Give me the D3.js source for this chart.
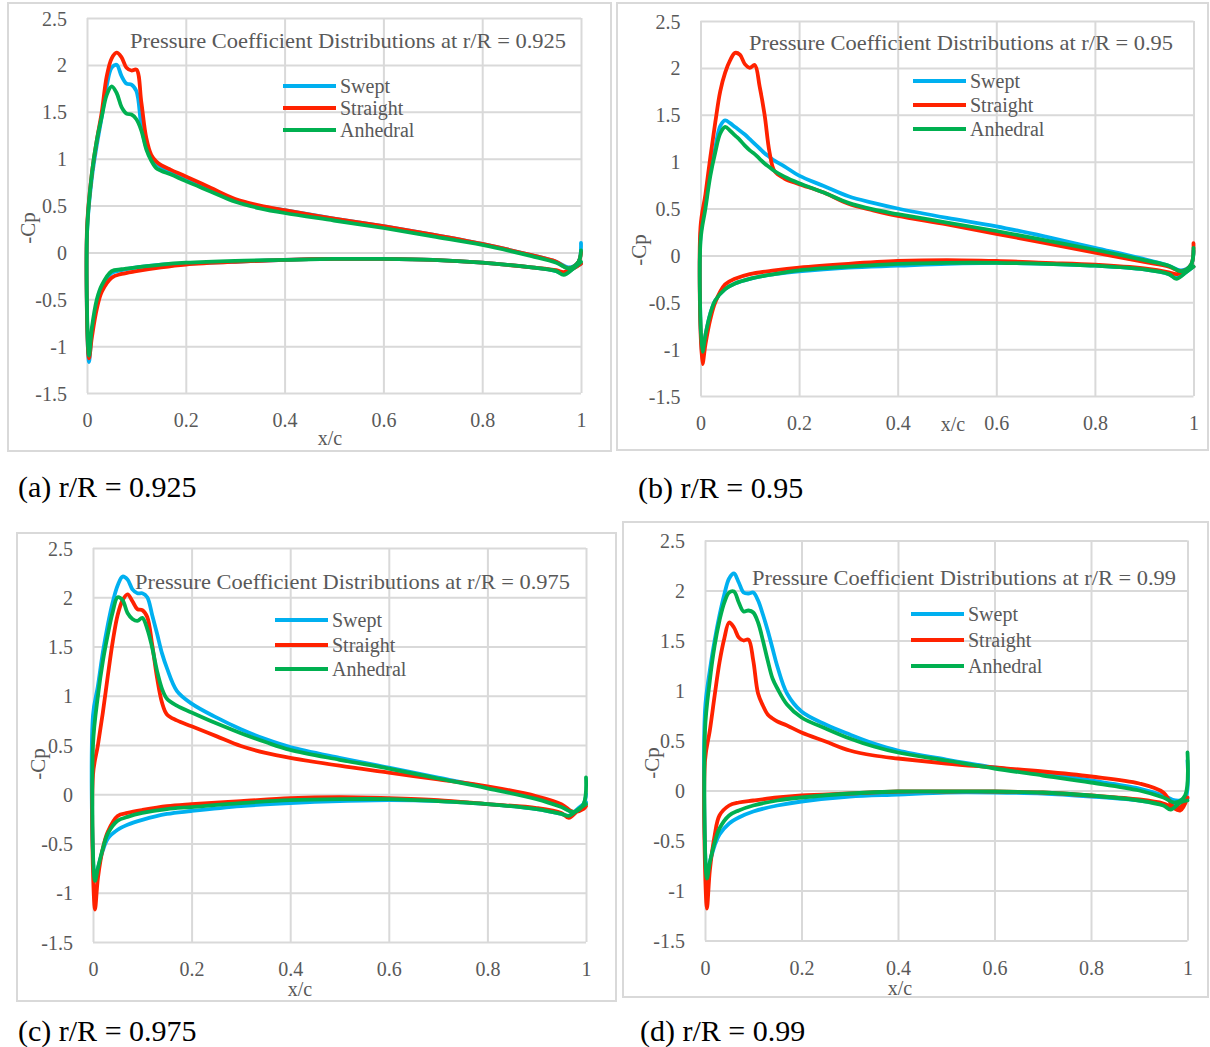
<!DOCTYPE html>
<html>
<head>
<meta charset="utf-8">
<script src="https://cdn.jsdelivr.net/npm/d3@7"></script>
<style>
body { margin: 0; background: #fff; }
</style>
</head>
<body>
<svg id="fig" width="1210" height="1047"></svg>
<script>
// chord stations, upper surface (LE -> TE) and lower surface (LE -> TE)
const xUpper = [0, 0.01, 0.02, 0.03, 0.04, 0.05, 0.06, 0.07, 0.08, 0.09, 0.10, 0.11, 0.12, 0.13, 0.14, 0.15, 0.17, 0.2, 0.25, 0.3, 0.35, 0.4, 0.5, 0.6, 0.7, 0.8, 0.9, 0.95, 0.975, 0.995, 1.0];
const xLower = [0.004, 0.01, 0.02, 0.03, 0.05, 0.07, 0.1, 0.15, 0.2, 0.3, 0.4, 0.5, 0.6, 0.7, 0.8, 0.9, 0.95, 0.965, 0.985, 1.0];

const xTicks = [0, 0.2, 0.4, 0.6, 0.8, 1];
const yTicks = [-1.5, -1, -0.5, 0, 0.5, 1, 1.5, 2, 2.5];
const series = ["Swept", "Straight", "Anhedral"];

// (a) r/R = 0.925   values are -Cp
const sweptUpperA    = [0.2, 0.8, 1.15, 1.45, 1.78, 1.97, 2.0, 1.88, 1.8, 1.79, 1.72, 1.35, 1.12, 1.0, 0.95, 0.91, 0.86, 0.79, 0.68, 0.56, 0.49, 0.45, 0.36, 0.28, 0.19, 0.09, -0.03, -0.1, -0.16, -0.1, 0.1];
const straightUpperA = [0.25, 0.85, 1.2, 1.5, 1.88, 2.07, 2.13, 2.08, 1.97, 1.94, 1.95, 1.6, 1.22, 1.04, 0.97, 0.93, 0.88, 0.81, 0.69, 0.57, 0.5, 0.45, 0.36, 0.28, 0.19, 0.09, -0.03, -0.1, -0.17, -0.1, 0.0];
const anhedralUpperA = [0.2, 0.85, 1.2, 1.45, 1.68, 1.77, 1.7, 1.55, 1.48, 1.47, 1.42, 1.3, 1.1, 0.98, 0.9, 0.87, 0.83, 0.76, 0.65, 0.54, 0.47, 0.42, 0.34, 0.26, 0.17, 0.08, -0.04, -0.11, -0.17, -0.1, 0.02];
const sweptLowerA    = [-1.17, -0.85, -0.55, -0.38, -0.22, -0.19, -0.16, -0.13, -0.12, -0.1, -0.08, -0.07, -0.07, -0.08, -0.11, -0.16, -0.2, -0.23, -0.17, -0.12];
const straightLowerA = [-1.13, -0.9, -0.6, -0.42, -0.27, -0.23, -0.2, -0.16, -0.13, -0.1, -0.08, -0.07, -0.07, -0.08, -0.11, -0.16, -0.19, -0.21, -0.17, -0.12];
const anhedralLowerA = [-1.1, -0.8, -0.5, -0.35, -0.2, -0.18, -0.16, -0.13, -0.11, -0.09, -0.08, -0.07, -0.07, -0.08, -0.11, -0.16, -0.2, -0.24, -0.17, -0.1];

// (b) r/R = 0.95
const sweptUpperB    = [0.2, 0.55, 0.9, 1.15, 1.38, 1.44, 1.41, 1.37, 1.33, 1.29, 1.24, 1.19, 1.14, 1.09, 1.05, 1.01, 0.95, 0.85, 0.74, 0.63, 0.56, 0.5, 0.4, 0.31, 0.2, 0.08, -0.04, -0.11, -0.16, -0.1, 0.05];
const straightUpperB = [0.3, 0.65, 1.05, 1.42, 1.75, 1.95, 2.08, 2.16, 2.14, 2.04, 2.0, 2.03, 1.8, 1.5, 1.1, 0.9, 0.82, 0.76, 0.67, 0.55, 0.48, 0.42, 0.33, 0.23, 0.13, 0.03, -0.07, -0.12, -0.17, -0.1, 0.13];
const anhedralUpperB = [0.15, 0.5, 0.85, 1.1, 1.3, 1.37, 1.33, 1.28, 1.23, 1.17, 1.12, 1.08, 1.03, 0.98, 0.94, 0.9, 0.84, 0.77, 0.67, 0.56, 0.49, 0.44, 0.35, 0.26, 0.16, 0.06, -0.05, -0.11, -0.17, -0.1, 0.08];
const sweptLowerB    = [-1.05, -0.85, -0.62, -0.48, -0.36, -0.3, -0.25, -0.2, -0.17, -0.13, -0.11, -0.09, -0.08, -0.09, -0.11, -0.15, -0.2, -0.24, -0.18, -0.12];
const straightLowerB = [-1.16, -0.95, -0.68, -0.5, -0.31, -0.25, -0.2, -0.16, -0.13, -0.09, -0.06, -0.05, -0.06, -0.08, -0.1, -0.14, -0.18, -0.2, -0.16, -0.12];
const anhedralLowerB = [-1.03, -0.85, -0.62, -0.48, -0.36, -0.3, -0.25, -0.2, -0.16, -0.12, -0.09, -0.08, -0.08, -0.09, -0.11, -0.15, -0.2, -0.25, -0.18, -0.12];

// (c) r/R = 0.975
const sweptUpperC    = [0.8, 1.1, 1.44, 1.72, 1.95, 2.12, 2.21, 2.18, 2.08, 2.04, 2.04, 2.0, 1.82, 1.63, 1.43, 1.28, 1.05, 0.92, 0.78, 0.66, 0.56, 0.48, 0.37, 0.27, 0.17, 0.07, -0.04, -0.12, -0.18, -0.1, 0.0];
const straightUpperC = [0.2, 0.5, 0.83, 1.2, 1.55, 1.82, 1.97, 2.03, 1.96, 1.88, 1.87, 1.8, 1.52, 1.18, 0.93, 0.81, 0.75, 0.69, 0.59, 0.49, 0.42, 0.37, 0.29, 0.22, 0.15, 0.08, -0.02, -0.1, -0.18, -0.15, -0.12];
const anhedralUpperC = [0.5, 1.0, 1.35, 1.62, 1.85, 2.0, 1.97, 1.84, 1.78, 1.76, 1.79, 1.68, 1.49, 1.25, 1.07, 0.97, 0.9, 0.83, 0.72, 0.62, 0.53, 0.45, 0.35, 0.26, 0.16, 0.06, -0.05, -0.13, -0.18, -0.1, 0.17];
const sweptLowerC    = [-0.86, -0.75, -0.57, -0.45, -0.36, -0.31, -0.26, -0.2, -0.17, -0.12, -0.09, -0.07, -0.06, -0.07, -0.1, -0.15, -0.2, -0.22, -0.14, -0.08];
const straightLowerC = [-1.17, -0.85, -0.55, -0.38, -0.22, -0.19, -0.16, -0.12, -0.1, -0.07, -0.04, -0.03, -0.04, -0.06, -0.1, -0.14, -0.19, -0.24, -0.16, -0.12];
const anhedralLowerC = [-0.88, -0.75, -0.55, -0.4, -0.27, -0.23, -0.19, -0.15, -0.13, -0.09, -0.06, -0.05, -0.05, -0.07, -0.1, -0.15, -0.2, -0.22, -0.15, -0.1];

// (d) r/R = 0.99
const sweptUpperD    = [0.8, 1.2, 1.5, 1.75, 1.96, 2.12, 2.17, 2.08, 1.98, 1.97, 1.98, 1.9, 1.76, 1.6, 1.42, 1.24, 0.97, 0.79, 0.66, 0.56, 0.47, 0.4, 0.31, 0.23, 0.17, 0.1, 0.02, -0.05, -0.1, -0.08, 0.3];
const straightUpperD = [0.3, 0.6, 0.95, 1.28, 1.52, 1.68, 1.63, 1.53, 1.5, 1.51, 1.3, 0.97, 0.85, 0.76, 0.72, 0.69, 0.65, 0.58, 0.49, 0.4, 0.35, 0.32, 0.27, 0.23, 0.19, 0.14, 0.07, -0.02, -0.18, -0.12, -0.07];
const anhedralUpperD = [0.6, 1.1, 1.45, 1.7, 1.88, 1.98, 1.99, 1.88, 1.79, 1.8, 1.78, 1.68, 1.5, 1.3, 1.12, 1.02, 0.86, 0.73, 0.62, 0.52, 0.44, 0.38, 0.3, 0.22, 0.15, 0.08, 0.0, -0.07, -0.12, -0.05, 0.38];
const sweptLowerD    = [-0.86, -0.72, -0.55, -0.44, -0.33, -0.27, -0.21, -0.15, -0.11, -0.06, -0.04, -0.02, -0.02, -0.03, -0.06, -0.1, -0.14, -0.16, -0.1, -0.08];
const straightLowerD = [-1.18, -0.8, -0.45, -0.25, -0.15, -0.12, -0.1, -0.07, -0.05, -0.03, -0.01, -0.01, -0.01, -0.02, -0.05, -0.09, -0.13, -0.16, -0.2, -0.07];
const anhedralLowerD = [-0.88, -0.72, -0.52, -0.38, -0.25, -0.2, -0.15, -0.1, -0.07, -0.03, -0.01, -0.01, -0.01, -0.02, -0.05, -0.1, -0.15, -0.19, -0.12, -0.1];

const panels = [
    {ratio: "0.925", caption: "(a) r/R = 0.925",
     frame: [8, 3, 611, 451], x0: 87, x1: 581, yTop: 18, yBot: 393,
     title: [130, 41, 436], legX: 283, legY: [86, 108, 130],
     xlab: [330, 438], cp: [28, 228], cap: [18, 486],
     data: [[sweptUpperA, sweptLowerA], [straightUpperA, straightLowerA], [anhedralUpperA, anhedralLowerA]]},
    {ratio: "0.95", caption: "(b) r/R = 0.95",
     frame: [617, 3, 1208, 450], x0: 700.5, x1: 1193.5, yTop: 21, yBot: 396,
     title: [749, 42.5, 424], legX: 913, legY: [81, 105, 129],
     xlab: [953, 424], cp: [639, 250], cap: [638, 487],
     data: [[sweptUpperB, sweptLowerB], [straightUpperB, straightLowerB], [anhedralUpperB, anhedralLowerB]]},
    {ratio: "0.975", caption: "(c) r/R = 0.975",
     frame: [17, 533, 616, 1001], x0: 93, x1: 586, yTop: 548, yBot: 942,
     title: [135, 581.5, 435], legX: 275, legY: [620, 645, 669],
     xlab: [300, 989], cp: [38, 764], cap: [18, 1030],
     data: [[sweptUpperC, sweptLowerC], [straightUpperC, straightLowerC], [anhedralUpperC, anhedralLowerC]]},
    {ratio: "0.99", caption: "(d) r/R = 0.99",
     frame: [623, 522, 1208, 997], x0: 705, x1: 1187.5, yTop: 540.5, yBot: 940.5,
     title: [752, 578, 424], legX: 911, legY: [614, 640, 666],
     xlab: [900, 987.5], cp: [652, 763], cap: [640, 1030],
     data: [[sweptUpperD, sweptLowerD], [straightUpperD, straightLowerD], [anhedralUpperD, anhedralLowerD]]}
];

var svg = d3.select("#fig");
var colour = d3.scaleOrdinal().domain(series).range(["#00b0f0", "#ff2200", "#00b050"]);
var labelFont = "'Liberation Serif', 'Times New Roman', serif";
var grey = "#595959";

const plot = (p) => {
    var g = svg.append("g");

    g.append("rect")
    .attr("x", p.frame[0])
    .attr("y", p.frame[1])
    .attr("width", p.frame[2] - p.frame[0])
    .attr("height", p.frame[3] - p.frame[1])
    .attr("fill", "none")
    .attr("stroke", "#d9d9d9")
    .attr("stroke-width", 2);

    var x = d3.scaleLinear().domain([0, 1]).range([p.x0, p.x1]);
    var y = d3.scaleLinear().domain([-1.5, 2.5]).range([p.yBot, p.yTop]);

    var gx = g.append("g")
    .attr("transform", "translate(0," + p.yBot + ")")
    .call(d3.axisBottom(x).tickValues(xTicks).tickSize(-(p.yBot - p.yTop)).tickFormat(d => String(d)));
    var gy = g.append("g")
    .attr("transform", "translate(" + p.x0 + ",0)")
    .call(d3.axisLeft(y).tickValues(yTicks).tickSize(-(p.x1 - p.x0)).tickPadding(20).tickFormat(d => String(d)));

    [gx, gy].forEach(a => {
        a.select(".domain").remove();
        a.selectAll(".tick line").attr("stroke", "#d9d9d9").attr("stroke-width", 2);
        a.selectAll(".tick text")
        .attr("fill", grey)
        .style("font-family", labelFont)
        .style("font-size", "20px");
    });
    gx.selectAll(".tick text").attr("y", 27).attr("dy", "0.35em");
    gy.selectAll(".tick text").attr("dy", "0.35em");

    var line = d3.line()
    .x(d => x(d[0]))
    .y(d => y(d[1]))
    .curve(d3.curveCatmullRom.alpha(0.5));

    p.data.forEach((s, i) => {
        var pts = xUpper.map((xv, k) => [xv, s[0][k]]).reverse()
        .concat(xLower.map((xv, k) => [xv, s[1][k]]));
        g.append("path")
        .datum(pts)
        .attr("d", line)
        .attr("fill", "none")
        .attr("stroke", colour(series[i]))
        .attr("stroke-width", 3.8)
        .attr("stroke-linejoin", "round")
        .attr("stroke-linecap", "round");
    });

    g.append("text")
    .attr("x", p.title[0])
    .attr("y", p.title[1])
    .attr("dy", "0.35em")
    .attr("textLength", p.title[2])
    .attr("lengthAdjust", "spacingAndGlyphs")
    .attr("fill", grey)
    .style("font-family", labelFont)
    .style("font-size", "21px")
    .text("Pressure Coefficient Distributions at r/R = " + p.ratio);

    var leg = g.selectAll(".leg")
    .data(series)
    .enter()
    .append("g")
    .attr("transform", (d, i) => "translate(" + p.legX + "," + p.legY[i] + ")");
    leg.append("line")
    .attr("x1", 0).attr("x2", 53)
    .attr("stroke", d => colour(d))
    .attr("stroke-width", 4);
    leg.append("text")
    .attr("x", 57)
    .attr("dy", "0.35em")
    .attr("fill", grey)
    .style("font-family", labelFont)
    .style("font-size", "20px")
    .text(d => d);

    g.append("text")
    .attr("x", p.xlab[0])
    .attr("y", p.xlab[1])
    .attr("dy", "0.35em")
    .attr("text-anchor", "middle")
    .attr("fill", grey)
    .style("font-family", labelFont)
    .style("font-size", "20px")
    .text("x/c");

    g.append("text")
    .attr("transform", "translate(" + p.cp[0] + "," + p.cp[1] + ") rotate(-90)")
    .attr("dy", "0.35em")
    .attr("text-anchor", "middle")
    .attr("fill", grey)
    .style("font-family", labelFont)
    .style("font-size", "21px")
    .text("-Cp");

    g.append("text")
    .attr("x", p.cap[0])
    .attr("y", p.cap[1])
    .attr("dy", "0.35em")
    .attr("fill", "#000")
    .style("font-family", labelFont)
    .style("font-size", "30px")
    .text(p.caption);
};

panels.forEach(p => plot(p));
</script>
</body>
</html>
